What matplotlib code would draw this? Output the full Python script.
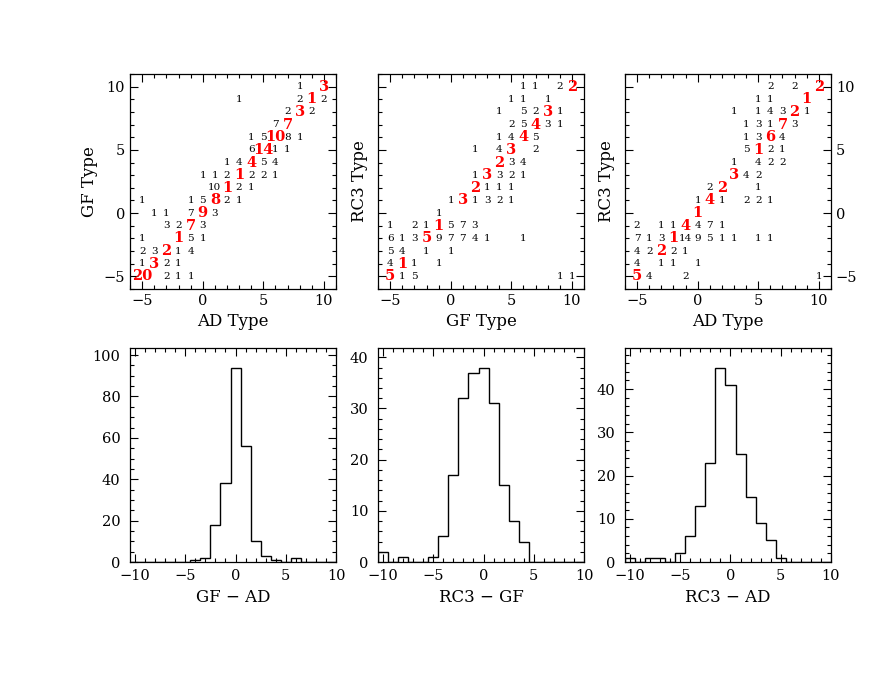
import numpy as np
import matplotlib
matplotlib.use("Agg")
import matplotlib.pyplot as plt
from matplotlib.ticker import MultipleLocator

plt.rcParams['font.family'] = ['DejaVu Serif']

# morphological types on both axes, -5 .. 10
types = list(range(-5, 11))

# counts per cell, rows go from type 10 (top) down to type -5 (bottom)
# columns go from type -5 (left) to type 10 (right)
gf_vs_ad = [
    [0, 0, 0, 0, 0, 0, 0, 0, 0, 0, 0, 0, 0, 1, 0, 3],
    [0, 0, 0, 0, 0, 0, 0, 0, 1, 0, 0, 0, 0, 2, 1, 2],
    [0, 0, 0, 0, 0, 0, 0, 0, 0, 0, 0, 0, 2, 3, 2, 0],
    [0, 0, 0, 0, 0, 0, 0, 0, 0, 0, 0, 7, 7, 0, 0, 0],
    [0, 0, 0, 0, 0, 0, 0, 0, 0, 1, 5, 10, 8, 1, 0, 0],
    [0, 0, 0, 0, 0, 0, 0, 0, 0, 6, 14, 1, 1, 0, 0, 0],
    [0, 0, 0, 0, 0, 0, 0, 1, 4, 4, 5, 4, 0, 0, 0, 0],
    [0, 0, 0, 0, 0, 1, 1, 2, 1, 2, 2, 1, 0, 0, 0, 0],
    [0, 0, 0, 0, 0, 0, 10, 1, 2, 1, 0, 0, 0, 0, 0, 0],
    [1, 0, 0, 0, 1, 5, 8, 2, 1, 0, 0, 0, 0, 0, 0, 0],
    [0, 1, 1, 0, 7, 9, 3, 0, 0, 0, 0, 0, 0, 0, 0, 0],
    [0, 0, 3, 2, 7, 3, 0, 0, 0, 0, 0, 0, 0, 0, 0, 0],
    [1, 0, 0, 1, 5, 1, 0, 0, 0, 0, 0, 0, 0, 0, 0, 0],
    [2, 3, 2, 1, 4, 0, 0, 0, 0, 0, 0, 0, 0, 0, 0, 0],
    [1, 3, 2, 1, 0, 0, 0, 0, 0, 0, 0, 0, 0, 0, 0, 0],
    [20, 0, 2, 1, 1, 0, 0, 0, 0, 0, 0, 0, 0, 0, 0, 0],
]

rc3_vs_gf = [
    [0, 0, 0, 0, 0, 0, 0, 0, 0, 0, 0, 1, 1, 0, 2, 2],
    [0, 0, 0, 0, 0, 0, 0, 0, 0, 0, 1, 1, 0, 1, 0, 0],
    [0, 0, 0, 0, 0, 0, 0, 0, 0, 1, 0, 5, 2, 3, 1, 0],
    [0, 0, 0, 0, 0, 0, 0, 0, 0, 0, 2, 5, 4, 3, 1, 0],
    [0, 0, 0, 0, 0, 0, 0, 0, 0, 1, 4, 4, 5, 0, 0, 0],
    [0, 0, 0, 0, 0, 0, 0, 1, 0, 4, 3, 0, 2, 0, 0, 0],
    [0, 0, 0, 0, 0, 0, 0, 0, 0, 2, 3, 4, 0, 0, 0, 0],
    [0, 0, 0, 0, 0, 0, 0, 1, 3, 3, 2, 1, 0, 0, 0, 0],
    [0, 0, 0, 0, 0, 0, 0, 2, 1, 1, 1, 0, 0, 0, 0, 0],
    [0, 0, 0, 0, 0, 1, 3, 1, 3, 2, 1, 0, 0, 0, 0, 0],
    [0, 0, 0, 0, 1, 0, 0, 0, 0, 0, 0, 0, 0, 0, 0, 0],
    [1, 0, 2, 1, 1, 5, 7, 3, 0, 0, 0, 0, 0, 0, 0, 0],
    [6, 1, 3, 5, 9, 7, 7, 4, 1, 0, 0, 1, 0, 0, 0, 0],
    [5, 4, 0, 1, 0, 1, 0, 0, 0, 0, 0, 0, 0, 0, 0, 0],
    [4, 1, 1, 0, 1, 0, 0, 0, 0, 0, 0, 0, 0, 0, 0, 0],
    [5, 1, 5, 0, 0, 0, 0, 0, 0, 0, 0, 0, 0, 0, 1, 1],
]

rc3_vs_ad = [
    [0, 0, 0, 0, 0, 0, 0, 0, 0, 0, 0, 2, 0, 2, 0, 2],
    [0, 0, 0, 0, 0, 0, 0, 0, 0, 0, 1, 1, 0, 0, 1, 0],
    [0, 0, 0, 0, 0, 0, 0, 0, 1, 0, 1, 4, 3, 2, 1, 0],
    [0, 0, 0, 0, 0, 0, 0, 0, 0, 1, 3, 1, 7, 3, 0, 0],
    [0, 0, 0, 0, 0, 0, 0, 0, 0, 1, 3, 6, 4, 0, 0, 0],
    [0, 0, 0, 0, 0, 0, 0, 0, 0, 5, 1, 2, 1, 0, 0, 0],
    [0, 0, 0, 0, 0, 0, 0, 0, 1, 0, 4, 2, 2, 0, 0, 0],
    [0, 0, 0, 0, 0, 0, 0, 0, 3, 4, 2, 0, 0, 0, 0, 0],
    [0, 0, 0, 0, 0, 0, 2, 2, 0, 0, 1, 0, 0, 0, 0, 0],
    [0, 0, 0, 0, 0, 1, 4, 1, 0, 2, 2, 1, 0, 0, 0, 0],
    [0, 0, 0, 0, 0, 1, 0, 0, 0, 0, 0, 0, 0, 0, 0, 0],
    [2, 0, 1, 1, 4, 4, 7, 1, 0, 0, 0, 0, 0, 0, 0, 0],
    [7, 1, 3, 1, 14, 9, 5, 1, 1, 0, 1, 1, 0, 0, 0, 0],
    [4, 2, 2, 2, 1, 0, 0, 0, 0, 0, 0, 0, 0, 0, 0, 0],
    [4, 0, 1, 1, 0, 1, 0, 0, 0, 0, 0, 0, 0, 0, 0, 0],
    [5, 4, 0, 0, 2, 0, 0, 0, 0, 0, 0, 0, 0, 0, 0, 1],
]

# type differences, one bin per integer from -10 to 10
diff_bins = list(range(-10, 11))
gf_minus_ad = [0, 0, 0, 0, 0, 0, 1, 2, 18, 38, 94, 56, 10, 3, 1, 0, 2, 0, 0, 0, 0]
rc3_minus_gf = [2, 0, 1, 0, 0, 1, 5, 17, 32, 37, 38, 31, 15, 8, 4, 0, 0, 0, 0, 0, 0]
rc3_minus_ad = [1, 0, 1, 1, 0, 2, 6, 13, 23, 45, 41, 25, 15, 9, 5, 1, 0, 0, 0, 0, 0]


def style_axes(ax, xmajor, ymajor, xminor, yminor):
    ax.xaxis.set_major_locator(MultipleLocator(xmajor))
    ax.xaxis.set_minor_locator(MultipleLocator(xminor))
    ax.yaxis.set_major_locator(MultipleLocator(ymajor))
    ax.yaxis.set_minor_locator(MultipleLocator(yminor))
    ax.tick_params(which='both', direction='in', top=True, right=True, labelsize=10.5)
    ax.tick_params(which='major', length=6, width=0.8)
    ax.tick_params(which='minor', length=3, width=0.8)
    for s in ax.spines.values():
        s.set_linewidth(0.9)


def count_panel(ax, grid):
    rows = types[::-1]
    for j, y in enumerate(rows):
        for i, x in enumerate(types):
            n = grid[j][i]
            if n == 0:
                continue
            if x == y:
                # diagonal (same type in both catalogues) in red
                ax.text(x, y, str(n), color='red', fontsize=10.5, fontweight='bold',
                        ha='center', va='center')
            else:
                ax.text(x, y, str(n), color='black', fontsize=7.5,
                        ha='center', va='center')
    ax.set_xlim(-6, 11)
    ax.set_ylim(-6, 11)
    style_axes(ax, 5, 5, 1, 1)


def hist_panel(ax, counts, ymajor, yminor):
    edges = np.array(diff_bins + [diff_bins[-1] + 1]) - 0.5
    ax.stairs(counts, edges, color='black', linewidth=1.0)
    ax.set_xlim(-10.5, 10)
    ax.set_ylim(0, 1.1 * max(counts))
    style_axes(ax, 5, ymajor, 1, yminor)
    ax.tick_params(axis='y', pad=7)
    ax.tick_params(axis='x', pad=5)


fig = plt.figure(figsize=(8.81, 6.81), dpi=100)

lefts = [0.1476, 0.4291, 0.7094]
w = 0.2338
ax1 = fig.add_axes([lefts[0], 0.5756, w, 0.3157])
ax2 = fig.add_axes([lefts[1], 0.5756, w, 0.3157])
ax3 = fig.add_axes([lefts[2], 0.5756, w, 0.3157])
ax4 = fig.add_axes([lefts[0], 0.1747, w, 0.3142])
ax5 = fig.add_axes([lefts[1], 0.1747, w, 0.3142])
ax6 = fig.add_axes([lefts[2], 0.1747, w, 0.3142])

count_panel(ax1, gf_vs_ad)
ax1.set_xlabel("AD Type", fontsize=12)
ax1.set_ylabel("GF Type", fontsize=12)

count_panel(ax2, rc3_vs_gf)
ax2.set_xlabel("GF Type", fontsize=12)
ax2.set_ylabel("RC3 Type", fontsize=12)
ax2.tick_params(labelleft=False)

count_panel(ax3, rc3_vs_ad)
ax3.set_xlabel("AD Type", fontsize=12)
ax3.set_ylabel("RC3 Type", fontsize=12)
ax3.tick_params(labelleft=False, labelright=True)

hist_panel(ax4, gf_minus_ad, 20, 5)
ax4.set_xlabel("GF \u2212 AD", fontsize=12)

hist_panel(ax5, rc3_minus_gf, 10, 2)
ax5.set_xlabel("RC3 \u2212 GF", fontsize=12)

hist_panel(ax6, rc3_minus_ad, 10, 2)
ax6.set_xlabel("RC3 \u2212 AD", fontsize=12)

fig.savefig("out.png", dpi=100)
